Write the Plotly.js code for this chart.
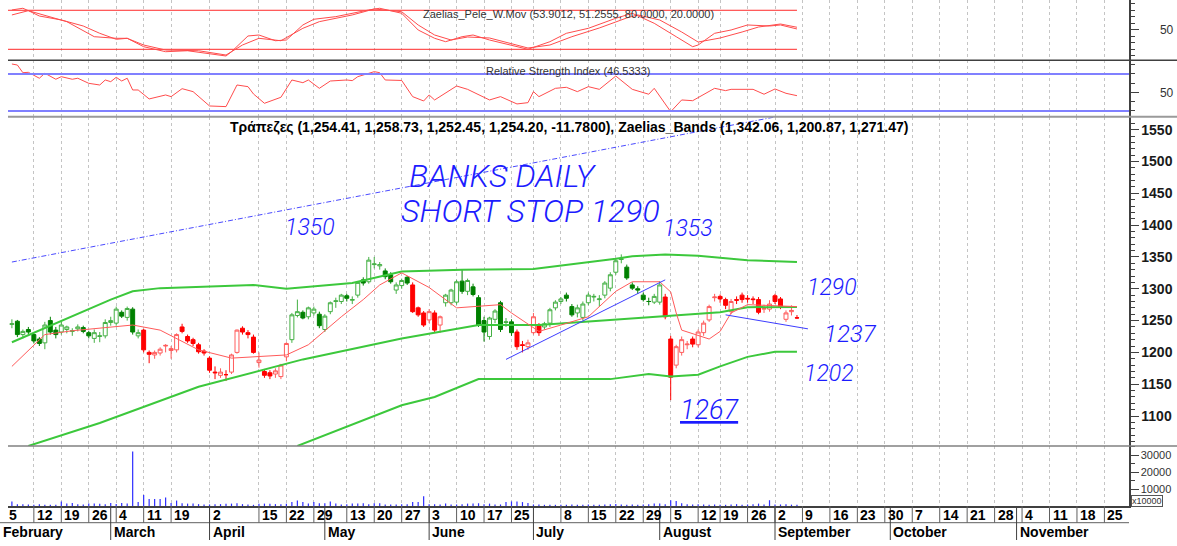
<!DOCTYPE html>
<html>
<head>
<meta charset="utf-8">
<script src="https://cdn.plot.ly/plotly-3.0.1.min.js"></script>
<style>
html,body{margin:0;padding:0;background:#ffffff;}
#chart{width:1177px;height:546px;}
</style>
</head>
<body>
<div id="chart"></div>
<script>
// ---------------- DATA ----------------
// trading-day index: 0 = 2 September 2024
const firstIdx = -139;
const openP  = [1244,1249,1228,1236,1228,1221,1215,1250,1235,1232,1236,1233,1237,1239,1231,1222,1225,1226,1247,1246,1263,1255,1268,1226,
  1235,1200,1196,1199,1210,1203,1204,1240,1225,1220,1212,1202,1191,1169,1164,1165,1169,1200,1238,1231,1224,1184,1170,1168,1166,1162,1193,
  1220,1258,1263,1256,1262,1260,1236,1264,1280,1280,1289,1282,1290,1314,1311,1338,1336,1328,1322,1298,1305,1318,
  1306,1270,1262,1251,1262,1243,
  1278,1278,1279,1312,1296,1303,1286,1250,1225,1252,1278,1247,1248,
  1232,1212,1209,1231,1243,
  1240,1246,1270,1280,1290,1272,1262,1255,1278,1287,1283,1290,1301,1326,1346,1334,1306,1300,1290,1280,1279,1279,
  1287,1221,1180,1200,1212,1221,1212,1231,1251,1286,1288,1283,1264,1283,1290,1285,1284,1283,1268,1268,1289,1284,1252,1264,1254.41];
const highP  = [1252,1251,1236,1240,1230,1224,1248,1256,1240,1248,1242,1238,1244,1242,1234,1236,1232,1252,1256,1272,1266,1272,1271,1236,
  1237,1203,1203,1208,1213,1210,1230,1245,1228,1223,1215,1205,1194,1178,1175,1172,1198,1236,1241,1235,1228,1200,1174,1172,1175,1182,1216,
  1262,1283,1266,1272,1272,1264,1260,1280,1286,1292,1292,1288,1312,1318,1350,1350,1342,1332,1326,1310,1316,1320,
  1310,1272,1265,1268,1266,1258,
  1292,1300,1314,1330,1316,1308,1290,1256,1256,1268,1281,1254,1252,
  1236,1218,1220,1262,1246,
  1248,1270,1282,1287,1294,1276,1275,1280,1294,1292,1290,1312,1326,1348,1354,1338,1310,1304,1294,1286,1292,1312,
  1292,1226,1212,1225,1218,1225,1236,1250,1275,1292,1291,1286,1284,1288,1294,1290,1288,1287,1275,1282,1292,1287,1266,1274,1258.73];
const lowP   = [1238,1224,1222,1229,1214,1210,1205,1228,1222,1228,1230,1226,1233,1230,1222,1215,1216,1222,1242,1242,1254,1250,1228,1222,
  1200,1183,1190,1195,1200,1190,1200,1230,1215,1210,1198,1195,1168,1158,1160,1155,1166,1198,1228,1222,1198,1176,1160,1158,1160,1158,1186,
  1215,1255,1252,1252,1258,1238,1232,1260,1270,1276,1280,1276,1286,1305,1308,1332,1330,1315,1308,1292,1300,1306,
  1262,1256,1240,1246,1232,1231,
  1272,1274,1275,1292,1290,1288,1240,1217,1220,1246,1232,1240,1226,
  1204,1200,1204,1228,1226,
  1236,1240,1266,1276,1280,1256,1255,1250,1274,1280,1272,1285,1296,1322,1340,1314,1298,1292,1280,1274,1276,1275,
  1252,1125,1175,1195,1205,1208,1208,1226,1248,1280,1278,1268,1260,1276,1278,1278,1276,1260,1262,1264,1276,1268,1248,1258,1252.45];
const closeP = [1245,1228,1233,1232,1218,1214,1243,1232,1228,1243,1240,1234,1240,1233,1226,1231,1226,1247,1250,1268,1257,1269,1232,1231,
  1204,1197,1200,1205,1211,1206,1228,1233,1218,1214,1201,1199,1172,1168,1169,1165,1196,1235,1232,1228,1200,1188,1164,1163,1171,1180,1214,
  1259,1264,1254,1270,1268,1242,1257,1278,1281,1290,1285,1283,1310,1309,1345,1339,1338,1319,1311,1306,1313,1309,
  1264,1259,1243,1264,1235,1256,
  1290,1298,1311,1296,1313,1291,1243,1232,1254,1265,1236,1248,1231,
  1209,1211,1215,1256,1231,
  1245,1267,1279,1284,1285,1259,1270,1276,1290,1288,1284,1309,1322,1344,1347,1317,1301,1298,1283,1280,1288,1306,
  1256,1161,1209,1220,1213,1213,1232,1246,1272,1287,1284,1274,1280,1282,1283,1284,1283,1263,1269,1276,1280,1272,1262,1265.98,1254.20];
const volume = [2700,1100,1100,900,800,1100,800,800,700,2700,
  1400,1800,1000,900,1400,1400,1300,1100,1800,1200,
  1800,1500,32000,2300,6400,4100,4100,4100,5000,1800,
  3200,1600,1400,1400,1100,900,900,1100,1100,1300,
  1400,1600,1100,900,700,1300,1400,1300,1100,1100,
  1300,2300,3200,2300,1400,2300,1600,1600,2700,1400,
  900,1100,1400,1400,1600,1100,1600,1600,900,900,
  900,1100,1100,2300,2300,5700,1100,1100,900,1400,
  900,900,1100,1400,1400,1600,1100,1400,900,900,
  2300,2700,2700,2300,1800,900,900,700,700,700,
  700,800,900,700,800,900,700,800,900,1000,
  1200,900,800,900,700,900,1100,1400,1400,1100,
  3400,3000,1600,1100,900,1000,900,800,900,800,
  700,900,1100,800,900,1000,1400,900,3400,900,
  900,1000,800,700];
// trend-state of the candles (green periods); all other days are red
const upTrendRanges = [[-139,-116],[-88,-67],[-60,-48],[-42,-21]];

// Zaelias bands
const upperBandX = [-139,-130,-121,-117,-112,-95,-89,-77,-68,-57,-44,-29,-26,-20,-14,-5,4];
const upperBand  = [1216,1250,1283,1296,1301,1306,1300,1309,1327,1330,1331,1347,1351,1354,1352,1345,1342.06];
const midBandX   = [-136,-123,-105,-86,-68,-54,-43,-30,-20,-10,-5,4];
const midBand    = [1053,1089,1146,1189,1222,1243,1243,1251,1257,1263,1271,1271.47];
const lowBandX   = [-87,-77,-68,-62,-54,-30,-23,-19,-14,-10,-5,0,4];
const lowBand    = [1053,1087,1117,1130,1158,1158,1166,1162,1165,1178,1193,1201,1200.87];
// red average line
const avgX = [-139,-137,-133,-128,-117,-112,-105,-99,-94,-89,-85,-79,-75,-72,-68,-63,-58,-54,-50,-48,-43,-39,-34,-29,-26,-21,-19,-18,-17,-12,-10,-8,-5,4];
const avgV = [1178,1195,1228,1234,1243,1235,1204,1191,1193,1196,1212,1256,1283,1306,1325,1302,1270,1273,1275,1262,1233,1243,1256,1296,1311,1311,1295,1262,1235,1221,1233,1262,1275,1272];
// hand-drawn lines
const channelX = [-139,0];     const channelV = [1342,1570];
const trendAX  = [-49,-20];    const trendAV  = [1189,1314];
const trendBX  = [-9,6];       const trendBV  = [1259,1237];

// Zaelias_Pele_W.Mov oscillator
const oscMainX = [-139,-137,-136,-129,-124,-120,-118,-115,-111,-105,-100,-97,-94,-90,-86,-83,-77,-73,-68,-65,-62,-59,-56,-52,-45,-41,-37,-32,-27,-25,-21,-17,-14,-10,-6,-3,1,4];
const oscMain  = [80.5,83.1,79.4,62.5,39.4,36.9,36.9,26.6,18.9,17.8,11.2,26.6,36.9,33.2,52.3,62.5,72.8,82.0,77.8,57.4,42.0,34.3,38.9,37.4,22.0,26.6,39.4,52.8,68.2,72.8,65.1,46.6,31.2,37.4,46.6,54.3,58.9,53.9012];
const oscSigX  = [-139,-136,-134,-130,-126,-123,-120,-118,-115,-111,-107,-103,-100,-99,-96,-94,-91,-89,-86,-84,-80,-74,-72,-68,-65,-62,-60,-57,-55,-52,-45,-41,-38,-34,-29,-26,-22,-18,-15,-14,-11,-8,-5,-1,1,4];
const oscSig   = [72.8,79.4,71.2,65.1,55.8,44.6,35.4,36.9,24.0,16.3,17.8,13.8,9.7,16.3,40.5,42.0,33.2,34.3,57.4,66.2,70.2,80.5,83.1,75.4,49.7,36.9,31.7,39.4,42.0,34.3,20.0,31.7,44.6,52.3,67.7,75.4,60.0,39.4,24.0,26.6,44.6,49.7,57.4,55.8,57.4,51.2555];
const oscLevels = [80, 20];

// Relative Strength Index
const rsiX = [-139,-138,-137,-136,-134,-133,-131,-130,-128,-127,-125,-123,-122,-121,-120,-119,-118,-117,-116,-114,-111,-110,-108,-106,-103,-100,-98,-96,-95,-93,-90,-88,-86,-85,-83,-81,-78,-77,-76,-73,-72,-71,-68,-66,-64,-63,-62,-58,-56,-52,-50,-47,-45,-44,-43,-40,-38,-36,-34,-32,-29,-26,-23,-22,-19,-17,-15,-11,-9,-8,-4,-2,0,2,4];
const rsiV = [80.8,79.7,71.4,71.8,65.4,70.8,64.3,67.1,64.3,65.4,59.9,58.1,63.5,61.7,66.4,62.4,65.4,52.7,52.7,43,47.3,45.5,54.1,50.9,35.4,34.7,58.1,56.3,48.4,38.3,44.8,63.5,60.6,63.5,54.5,62.4,63.5,62.8,67.1,72.5,71.4,63.5,63,45.5,40.8,47.3,41.9,57,53.4,41.9,45.5,37.6,39,50.9,45.5,54.5,55.6,50.9,56.3,53.4,67.8,53.4,48.1,54.5,29.2,41.9,41.1,54.5,52,53.4,53.4,48.1,53.8,49.1,46.5333];
const rsiLevels = [70, 30];

// time axis
const dayTickIdx    = [-140,-135,-130,-125,-120,-115,-110,-103,-94,-89,-84,-78,-73,-68,-63,-58,-53,-48,-39,-34,-29,-24,-19,-14,-10,-5,0,5,10,15,20,25,30,35,40,45,50,55,60];
const dayTickLabels = ['5','12','19','26','4','11','19','2','15','22','29','13','20','27','3','10','17','25','8','15','22','29','5','12','19','26','2','9','16','23','30','7','14','21','28','4','11','18','25'];
const extraGridIdx  = [-44];
const monthStartIdx = [-143,-121,-103,-82,-63,-44,-21,0,21,44];
const monthLabels   = ['February','March','April','May','June','July','August','September','October','November'];

// hand-written notes: text, day index, price
const noteTexts = ['BANKS DAILY','SHORT STOP 1290','1350','1353','1290','1237','1202','1267'];
const noteIdx   = [-49.6,-44.6,-84.7,-15.9,10.4,13.8,9.8,-12];
const notePrice = [1476.5,1422.6,1395.8,1394.7,1302.3,1229.1,1166.2,1109.6];

// ---------------- BUILD ----------------
const FONT = 'Liberation Sans, Arial, sans-serif';
const NOTE_FONT = 'Roboto, Liberation Sans, sans-serif';
const xMin = -139.71, xMax = 64.48;
const toPaper = i => (i - xMin) / (xMax - xMin);
const paperLeftEdge = -8 / 1121;
const idx = closeP.map((_, k) => firstIdx + k);
const lastK = idx.length - 1;
const isUp = i => upTrendRanges.some(r => i >= r[0] && i <= r[1]);

function subset(cond) {
  const s = {x: [], o: [], h: [], l: [], c: []};
  idx.forEach((i, k) => { if (cond(i)) { s.x.push(i); s.o.push(openP[k]); s.h.push(highP[k]); s.l.push(lowP[k]); s.c.push(closeP[k]); } });
  return s;
}
function candles(s, hollowCol, solidCol) {
  return {type: 'candlestick', x: s.x, open: s.o, high: s.h, low: s.l, close: s.c, xaxis: 'x', yaxis: 'y',
    increasing: {line: {color: hollowCol, width: 1}, fillcolor: '#ffffff'},
    decreasing: {line: {color: solidCol, width: 1}, fillcolor: solidCol},
    whiskerwidth: 0, hoverinfo: 'skip', showlegend: false};
}
function line(x, y, yaxis, color, width, dash) {
  return {type: 'scatter', mode: 'lines', x: x, y: y, xaxis: 'x', yaxis: yaxis,
    line: {color: color, width: width, dash: dash || 'solid'}, hoverinfo: 'skip', showlegend: false};
}

const traces = [];
traces.push({type: 'bar', x: idx, y: volume, xaxis: 'x', yaxis: 'y2', width: 0.22,
  marker: {color: '#2f2fff', line: {width: 0}}, hoverinfo: 'skip', showlegend: false});
traces.push(candles(subset(isUp), '#44b044', '#008000'));
traces.push(candles(subset(i => !isUp(i)), '#ff5c5c', '#ff0000'));
traces.push(line(upperBandX, upperBand, 'y', '#3cc83c', 2));
traces.push(line(midBandX, midBand, 'y', '#3cc83c', 2));
traces.push(line(lowBandX, lowBand, 'y', '#3cc83c', 2));
traces.push(line(avgX, avgV, 'y', '#ff5a5a', 1));
traces.push(line(channelX, channelV, 'y', '#4a4aff', 1, '5px,2px,1px,2px'));
traces.push(line(trendAX, trendAV, 'y', '#3c3cff', 1));
traces.push(line(trendBX, trendBV, 'y', '#3c3cff', 1));
oscLevels.forEach(v => traces.push(line([xMin, idx[lastK]], [v, v], 'y4', '#ff2a2a', 1)));
traces.push(line(oscSigX, oscSig, 'y4', '#ff4c4c', 1));
traces.push(line(oscMainX, oscMain, 'y4', '#ff4c4c', 1));
traces.push(line(rsiX, rsiV, 'y3', '#ff4c4c', 1));

const fmt2 = v => v.toLocaleString('en-US', {minimumFractionDigits: 2, maximumFractionDigits: 2});
const fmt4 = v => v.toFixed(4);
const change = closeP[lastK] - closeP[lastK - 1];
const mainTitle = 'Τράπεζες (' + [openP[lastK], highP[lastK], lowP[lastK], closeP[lastK]].map(fmt2).join(', ') + ', ' + fmt4(change) +
  '), Zaelias_Bands (' + [upperBand[upperBand.length - 1], lowBand[lowBand.length - 1], midBand[midBand.length - 1]].map(fmt2).join(', ') + ')';
const oscTitle = 'Zaelias_Pele_W.Mov (' + [oscMain[oscMain.length - 1], oscSig[oscSig.length - 1], oscLevels[0], oscLevels[1]].map(fmt4).join(', ') + ')';
const rsiTitle = 'Relative Strength Index (' + fmt4(rsiV[rsiV.length - 1]) + ')';

// layout geometry (paper fractions)
const H = 506;
const dVolTop = (H - 446) / H, dMainTop = (H - 116.7) / H, dRsiTop = (H - 60.3) / H;
const dayRowBottom = -(522.7 - H) / H, monthRowBottom = -(540 - H) / H;
const rightEdge = (1177 - 8) / 1121;

const shapes = [];
shapes.push({type: 'line', xref: 'paper', yref: 'paper', x0: 0, x1: rightEdge, y0: dRsiTop, y1: dRsiTop, line: {color: '#404040', width: 1.5}});
shapes.push({type: 'line', xref: 'paper', yref: 'paper', x0: 0, x1: rightEdge, y0: dMainTop, y1: dMainTop, line: {color: '#9a9a9a', width: 2}});
shapes.push({type: 'line', xref: 'paper', yref: 'paper', x0: 0, x1: rightEdge, y0: dVolTop, y1: dVolTop, line: {color: '#808080', width: 1.5}});
shapes.push({type: 'line', xref: 'paper', yref: 'paper', x0: paperLeftEdge, x1: 1, y0: dayRowBottom, y1: dayRowBottom, line: {color: '#606060', width: 1}});
rsiLevels.forEach(v => shapes.push({type: 'line', xref: 'paper', yref: 'y3', x0: 0, x1: 1, y0: v, y1: v, line: {color: '#8080ff', width: 2}}));
dayTickIdx.forEach(i => { if (i > xMin) shapes.push({type: 'line', xref: 'paper', yref: 'paper', x0: toPaper(i), x1: toPaper(i), y0: 0, y1: dayRowBottom, line: {color: '#606060', width: 1}}); });
monthStartIdx.forEach(i => { if (i > xMin) shapes.push({type: 'line', xref: 'paper', yref: 'paper', x0: toPaper(i), x1: toPaper(i), y0: 0, y1: monthRowBottom, line: {color: '#404040', width: 1}}); });

const annotations = [];
const ann = o => annotations.push(Object.assign({showarrow: false}, o));
ann({text: oscTitle, xref: 'paper', yref: 'paper', x: 0.5004, y: (H - 14) / H, xanchor: 'center', yanchor: 'middle', font: {family: FONT, size: 11, color: '#333333'}});
ann({text: rsiTitle, xref: 'paper', yref: 'paper', x: 0.5004, y: (H - 71) / H, xanchor: 'center', yanchor: 'middle', font: {family: FONT, size: 11, color: '#333333'}});
ann({text: mainTitle, xref: 'paper', yref: 'paper', x: 0.5, y: (H - 127) / H, xanchor: 'center', yanchor: 'middle', font: {family: FONT, size: 14, color: '#000000', weight: 'bold'}});
dayTickIdx.forEach((i, k) => ann({text: dayTickLabels[k], xref: 'paper', yref: 'paper', x: Math.max(toPaper(i), paperLeftEdge), xshift: 1, y: -(514.5 - H) / H,
  xanchor: 'left', yanchor: 'middle', font: {family: FONT, size: 14, color: '#000000', weight: 'bold'}}));
monthStartIdx.forEach((i, k) => ann({text: monthLabels[k], xref: 'paper', yref: 'paper', x: Math.max(toPaper(i), paperLeftEdge), xshift: 1, y: -(532 - H) / H,
  xanchor: 'left', yanchor: 'middle', font: {family: FONT, size: 14, color: '#000000', weight: 'bold'}}));
ann({text: 'x10000', xref: 'paper', yref: 'paper', x: (1131 - 8) / 1121, y: (H - 501) / H, xanchor: 'left', yanchor: 'middle',
  font: {family: FONT, size: 9, color: '#333333'}, bordercolor: '#555555', borderwidth: 1, borderpad: 0, bgcolor: '#ffffff'});
const noteSizes = [32, 32, 23, 23, 23, 24, 23, 27];
noteTexts.forEach((t, k) => ann({text: t, xref: 'x', yref: 'y', x: noteIdx[k], y: notePrice[k], xanchor: 'center', yanchor: 'middle',
  font: {family: NOTE_FONT, size: noteSizes[k], color: '#1c1cff', style: 'italic', weight: 300, lineposition: t === '1267' ? 'under' : 'none'}}));

const axisCommon = {side: 'right', anchor: 'x', showgrid: false, zeroline: false, showline: true, linecolor: '#404040', linewidth: 1.5,
  ticks: 'outside', ticklen: 8, tickcolor: '#404040', tickwidth: 1, tickformat: 'd', exponentformat: 'none', fixedrange: true};

const layout = {
  width: 1177, height: 546,
  margin: {l: 8, r: 48, t: 0, b: 40, pad: 0},
  paper_bgcolor: '#ffffff', plot_bgcolor: '#ffffff',
  showlegend: false, hovermode: false,
  boxgap: 0.28, boxgroupgap: 0,
  font: {family: FONT},
  xaxis: {range: [xMin, xMax], anchor: 'y2', showline: true, linecolor: '#404040', linewidth: 1.5, zeroline: false,
    tickmode: 'array', tickvals: dayTickIdx.concat(extraGridIdx), showticklabels: false, ticks: '',
    showgrid: true, gridcolor: '#c4c4c4', gridwidth: 1, griddash: 'dot', rangeslider: {visible: false}, fixedrange: true},
  yaxis: Object.assign({}, axisCommon, {domain: [dVolTop, dMainTop], range: [1052.9, 1570.4], tickmode: 'linear', tick0: 1100, dtick: 50,
    tickfont: {family: FONT, size: 14, color: '#1a1a1a', weight: 'bold'},
    minor: {ticks: 'outside', ticklen: 4, tickcolor: '#404040', tick0: 0, dtick: 10, showgrid: false}}),
  yaxis2: Object.assign({}, axisCommon, {domain: [0, dVolTop], range: [0, 35300], tickmode: 'array', tickvals: [10000, 20000, 30000],
    tickfont: {family: FONT, size: 11, color: '#333333'},
    minor: {ticks: 'outside', ticklen: 4, tickcolor: '#404040', tick0: 0, dtick: 5000, showgrid: false}}),
  yaxis3: Object.assign({}, axisCommon, {domain: [dMainTop, dRsiTop], range: [23.8, 84.8], tickmode: 'array', tickvals: [50],
    ticklabelstandoff: 19, tickfont: {family: FONT, size: 12, color: '#333333'},
    minor: {ticks: 'outside', ticklen: 4, tickcolor: '#404040', tick0: 0, dtick: 10, showgrid: false}}),
  yaxis4: Object.assign({}, axisCommon, {domain: [dRsiTop, 1], range: [3.1, 95.8], tickmode: 'array', tickvals: [50],
    ticklabelstandoff: 19, tickfont: {family: FONT, size: 12, color: '#333333'},
    minor: {ticks: 'outside', ticklen: 4, tickcolor: '#404040', tick0: 0, dtick: 10, showgrid: false}}),
  shapes: shapes,
  annotations: annotations
};

Plotly.newPlot('chart', traces, layout, {staticPlot: true, displayModeBar: false});
</script>
</body>
</html>
